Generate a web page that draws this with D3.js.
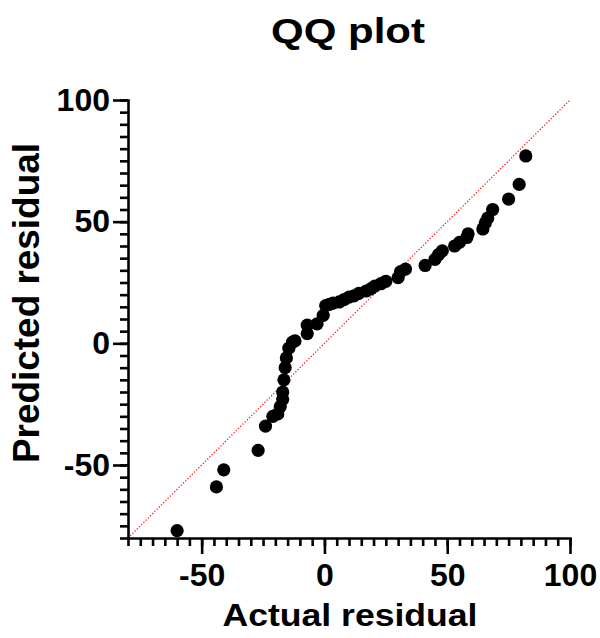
<!DOCTYPE html>
<html>
<head>
  <meta charset="utf-8">
  <script src="https://d3js.org/d3.v7.min.js"></script>
  <style>
    body { margin: 0; background: #fff; }
    svg text { font-family: "Liberation Sans", Arial, sans-serif; font-weight: bold; fill: #000; }
  </style>
</head>
<body>
<svg width="600" height="638"></svg>
<script>
// values (sorted actual vs predicted residuals)
var actual = [-60, -44, -41, -27, -24, -21, -19, -18, -17, -17, -16.5, -16, -15.5, -14.5, -13, -12,
  -7, -7, -3, -0.5, 0.5, 2, 3.5, 6, 8, 10, 12, 14, 17, 19, 20.5, 23, 25, 30, 31, 33,
  41, 45, 46.5, 48, 53, 55, 58, 58.5, 64.5, 65.5, 66.5, 68.5, 75, 79.3, 82];
var predicted = [-77, -59, -52, -44, -34, -30, -29, -26, -23, -20, -15, -10, -6, -2, 0.5, 1,
  4, 7.5, 8, 11.5, 15.5, 16, 16.5, 17, 18, 19, 19.5, 20.5, 21.5, 22.5, 23.5, 24.5, 25.5, 27, 29.5, 30.5,
  32, 34.5, 36.5, 38, 40, 41.5, 43.5, 45, 47, 49.5, 51.5, 55, 59.3, 65.3, 77];
var majorTicks = [-50, 0, 50, 100];
var minorTicks = d3.range(-80, 101, 5);

var svg = d3.select("svg");

var x = d3.scaleLinear().domain([-80, 100]).range([128, 570]);
var y = d3.scaleLinear().domain([-80, 100]).range([538, 100]);

// identity line
svg.append("line")
  .attr("x1", x(-80)).attr("y1", y(-80))
  .attr("x2", x(100)).attr("y2", y(100))
  .attr("stroke", "#ff2020")
  .attr("stroke-width", 1.3)
  .attr("stroke-dasharray", "1.3,1.8");

// points
svg.append("g")
  .selectAll("circle")
  .data(actual)
  .enter().append("circle")
    .attr("cx", function(d) { return x(d); })
    .attr("cy", function(d, i) { return y(predicted[i]); })
    .attr("r", 6.6)
    .attr("fill", "#000");

// minor ticks
svg.append("g")
  .attr("transform", "translate(0," + y(-80) + ")")
  .call(d3.axisBottom(x).tickValues(minorTicks).tickSize(8).tickFormat(""))
  .call(function(g) { g.select(".domain").remove(); });
svg.append("g")
  .attr("transform", "translate(" + x(-80) + ",0)")
  .call(d3.axisLeft(y).tickValues(minorTicks).tickSize(8).tickFormat(""))
  .call(function(g) { g.select(".domain").remove(); });

// major ticks + labels (plain hyphen for negatives)
var fmt = function(d) { return String(d); };
svg.append("g")
  .attr("transform", "translate(0," + y(-80) + ")")
  .call(d3.axisBottom(x).tickValues(majorTicks).tickFormat(fmt).tickSize(16).tickSizeOuter(0).tickPadding(9));
svg.append("g")
  .attr("transform", "translate(" + x(-80) + ",0)")
  .call(d3.axisLeft(y).tickValues(majorTicks).tickFormat(fmt).tickSize(15).tickSizeOuter(0).tickPadding(3));

svg.selectAll(".tick line, .domain")
  .attr("stroke", "#000")
  .attr("stroke-width", 2.6);
svg.selectAll(".domain").attr("stroke-linecap", "square");
svg.selectAll(".tick text")
  .attr("font-family", null)
  .attr("font-size", null)
  .style("font-size", "32px")
  .style("font-family", "'Liberation Sans', Arial, sans-serif")
  .style("font-weight", "bold");

// titles
svg.append("text")
  .attr("x", 348).attr("y", 43)
  .attr("text-anchor", "middle")
  .attr("textLength", 154)
  .attr("lengthAdjust", "spacingAndGlyphs")
  .style("font-size", "35px")
  .text("QQ plot");

svg.append("text")
  .attr("x", 350).attr("y", 626)
  .attr("text-anchor", "middle")
  .attr("textLength", 255)
  .attr("lengthAdjust", "spacingAndGlyphs")
  .style("font-size", "31px")
  .text("Actual residual");

svg.append("text")
  .attr("transform", "translate(39,303) rotate(-90)")
  .attr("text-anchor", "middle")
  .attr("textLength", 320)
  .attr("lengthAdjust", "spacingAndGlyphs")
  .style("font-size", "36px")
  .text("Predicted residual");
</script>
</body>
</html>
